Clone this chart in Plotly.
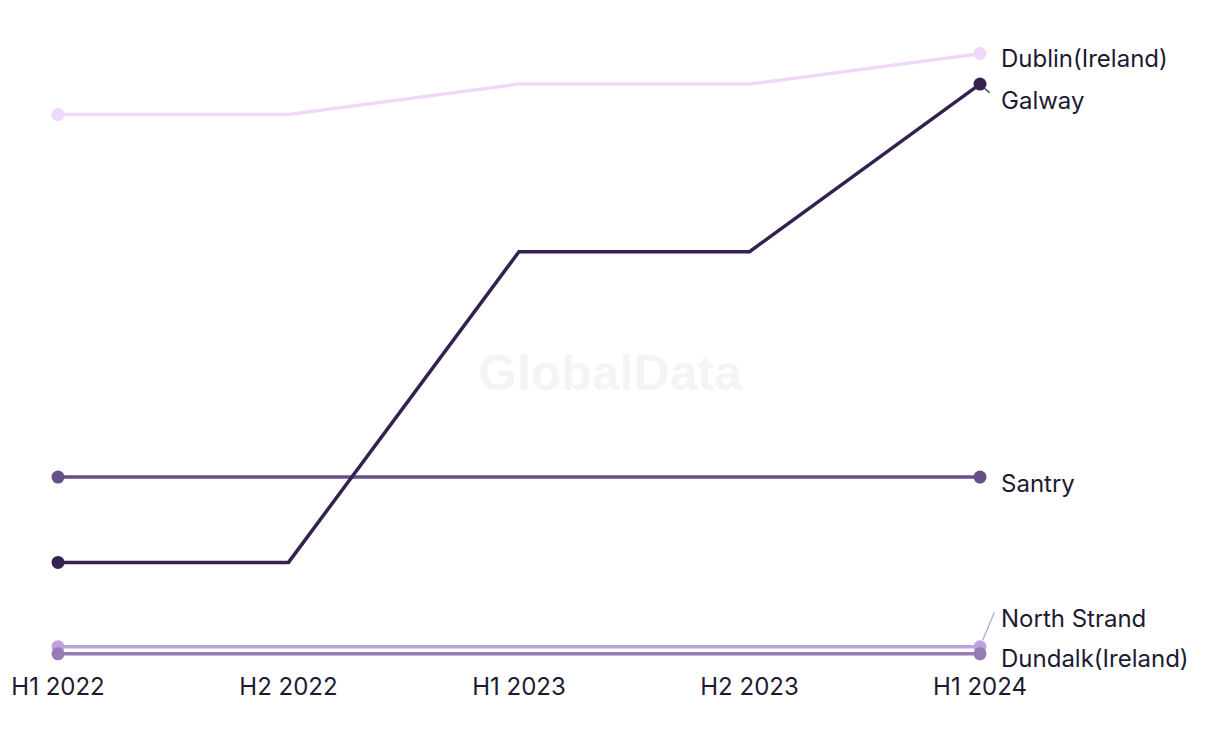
import plotly.graph_objects as go

periods = ["H1 2022", "H2 2022", "H1 2023", "H2 2023", "H1 2024"]
dublin = [18.7, 18.7, 19.7, 19.7, 20.7]
galway = [4.0, 4.0, 14.2, 14.2, 19.7]
santry = [6.8, 6.8, 6.8, 6.8, 6.8]
north_strand = [1.23, 1.23, 1.23, 1.23, 1.23]
dundalk = [1.0, 1.0, 1.0, 1.0, 1.0]

series = [
    ("Dublin(Ireland)", dublin, "#f0d8fb", -5),
    ("Galway", galway, "#35214f", -16),
    ("Santry", santry, "#654f88", -6),
    ("North Strand", north_strand, "#bca2df", 28),
    ("Dundalk(Ireland)", dundalk, "#967bb5", -5),
]

FONT = "Inter"
TEXT = "#1c1b33"

fig = go.Figure()
order = [0, 3, 4, 2, 1]
for i in order:
    name, vals, col, _ = series[i]
    sizes = [13] + [0] * (len(vals) - 2) + [13]
    fig.add_trace(go.Scatter(
        x=periods, y=vals, mode="lines+markers", name=name,
        line=dict(color=col, width=3.5),
        marker=dict(color=col, size=sizes, opacity=1, line=dict(width=0, color=col)),
        showlegend=False, hoverinfo="skip", cliponaxis=False,
    ))

annotations = []
# leader lines (drawn as annotation arrows from the end marker toward the label)
annotations.append(dict(
    x=periods[-1], y=galway[-1], xref="x", yref="y", text="", showarrow=True,
    arrowhead=0, arrowwidth=1.3, arrowcolor=series[1][2], ax=11, ay=10, standoff=6,
))
annotations.append(dict(
    x=periods[-1], y=north_strand[-1], xref="x", yref="y", text="", showarrow=True,
    arrowhead=0, arrowwidth=1.3, arrowcolor=series[3][2], ax=15, ay=-36, standoff=7,
))

for name, vals, col, ys in series:
    annotations.append(dict(
        x=periods[-1], y=vals[-1], xref="x", yref="y", text=name,
        showarrow=False, xanchor="left", yanchor="middle",
        xshift=19, yshift=ys, font=dict(family=FONT, size=24, color=TEXT),
    ))

annotations.append(dict(
    x=0.599, y=0.449, xref="paper", yref="paper", text="<b>GlobalData</b>",
    showarrow=False, font=dict(family="Liberation Sans", size=50, color="#f4f4f4"),
))

fig.update_layout(
    width=1220, height=744,
    margin=dict(l=58, r=240, t=13.5, b=78),
    paper_bgcolor="white", plot_bgcolor="white",
    annotations=annotations,
    xaxis=dict(type="category", range=[0, 4], showgrid=False, zeroline=False,
               showline=False, ticks="", tickfont=dict(family=FONT, size=24, color=TEXT),
               ticklabelstandoff=4),
    yaxis=dict(range=[0.6, 22], showgrid=False, zeroline=False, showline=False,
               showticklabels=False, ticks=""),
)

fig.write_html("out.html")
